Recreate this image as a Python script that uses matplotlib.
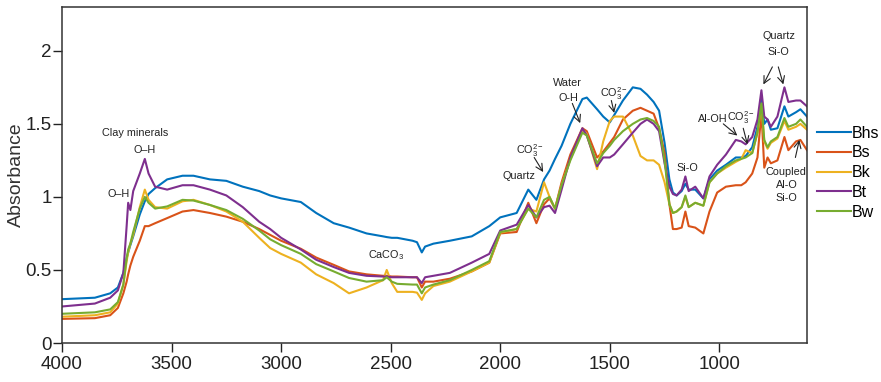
import matplotlib
matplotlib.use("Agg")
import matplotlib.pyplot as plt

plt.rcParams['font.family'] = ['Liberation Sans', 'DejaVu Sans']
plt.rcParams['mathtext.fontset'] = 'custom'
plt.rcParams['mathtext.rm'] = 'Liberation Sans'
plt.rcParams['mathtext.it'] = 'Liberation Sans:italic'
plt.rcParams['mathtext.bf'] = 'Liberation Sans:bold'

# Wavenumber (cm-1) sampling of the spectra
wavenumber = [4000, 3850, 3780, 3745, 3720, 3705, 3698, 3688, 3675, 3645, 3622, 3605,
              3575, 3520, 3450, 3400, 3325, 3250, 3175, 3100, 3050, 3000, 2910, 2840,
              2760, 2690, 2610, 2535, 2518, 2495, 2470, 2400, 2380, 2358, 2343, 2305,
              2230, 2130, 2050, 2000, 1925, 1872, 1835, 1800, 1775, 1750, 1720, 1680,
              1625, 1605, 1558, 1530, 1500, 1480, 1440, 1395, 1360, 1330, 1300, 1275,
              1250, 1228, 1212, 1195, 1172, 1155, 1140, 1110, 1073, 1045, 1010, 970,
              925, 900, 880, 850, 826, 808, 795, 780, 765, 735, 703, 685, 650, 630, 600]

horizons = ["Bhs", "Bs", "Bk", "Bt", "Bw"]
colors = ["#0072BD", "#D95319", "#EDB120", "#7E2F8E", "#77AC30"]

bhs = [0.30, 0.31, 0.34, 0.38, 0.48, 0.58, 0.62, 0.67, 0.73, 0.88, 0.97, 1.02,
       1.06, 1.12, 1.145, 1.145, 1.12, 1.11, 1.07, 1.04, 1.01, 0.99, 0.965, 0.89,
       0.82, 0.79, 0.75, 0.73, 0.725, 0.72, 0.72, 0.70, 0.69, 0.62, 0.66, 0.68,
       0.70, 0.73, 0.80, 0.86, 0.89, 1.05, 0.98, 1.12, 1.18, 1.26, 1.35, 1.50,
       1.67, 1.68, 1.60, 1.55, 1.51, 1.56, 1.66, 1.75, 1.74, 1.70, 1.65, 1.59,
       1.37, 1.12, 1.03, 1.01, 1.04, 1.09, 1.05, 1.05, 0.99, 1.12, 1.18, 1.22,
       1.27, 1.27, 1.28, 1.34, 1.48, 1.69, 1.50, 1.53, 1.46, 1.47, 1.62, 1.55, 1.58, 1.60, 1.55]

bs = [0.165, 0.17, 0.19, 0.24, 0.34, 0.42, 0.47, 0.53, 0.59, 0.70, 0.80, 0.80,
      0.82, 0.855, 0.90, 0.91, 0.89, 0.865, 0.83, 0.78, 0.74, 0.70, 0.645, 0.585,
      0.535, 0.49, 0.47, 0.46, 0.46, 0.455, 0.455, 0.45, 0.45, 0.38, 0.42, 0.42,
      0.44, 0.49, 0.55, 0.75, 0.76, 0.96, 0.82, 0.95, 0.99, 0.92, 1.10, 1.29,
      1.47, 1.45, 1.27, 1.31, 1.37, 1.41, 1.53, 1.59, 1.61, 1.59, 1.57, 1.47,
      1.30, 0.95, 0.78, 0.78, 0.79, 0.90, 0.80, 0.79, 0.75, 0.90, 1.03, 1.07,
      1.08, 1.08, 1.10, 1.16, 1.27, 1.58, 1.20, 1.27, 1.23, 1.25, 1.41, 1.32, 1.38, 1.39, 1.32]

bk = [0.18, 0.19, 0.21, 0.27, 0.40, 0.56, 0.62, 0.68, 0.74, 0.93, 1.05, 0.98,
      0.93, 0.92, 0.97, 0.98, 0.945, 0.90, 0.83, 0.72, 0.65, 0.61, 0.55, 0.47,
      0.41, 0.34, 0.38, 0.43, 0.50, 0.41, 0.35, 0.35, 0.345, 0.295, 0.34, 0.39,
      0.42, 0.49, 0.55, 0.755, 0.78, 0.92, 0.90, 1.10, 1.00, 0.92, 1.08, 1.26,
      1.46, 1.43, 1.19, 1.38, 1.52, 1.55, 1.55, 1.42, 1.28, 1.25, 1.25, 1.22,
      1.10, 0.95, 0.89, 0.90, 0.93, 1.00, 0.93, 0.96, 0.94, 1.10, 1.16, 1.20,
      1.24, 1.26, 1.32, 1.30, 1.44, 1.63, 1.38, 1.33, 1.37, 1.40, 1.52, 1.46, 1.48, 1.50, 1.46]

bt = [0.25, 0.27, 0.31, 0.36, 0.48, 0.80, 0.96, 0.91, 1.04, 1.16, 1.26, 1.16,
      1.07, 1.05, 1.08, 1.08, 1.05, 1.01, 0.93, 0.83, 0.78, 0.72, 0.64, 0.57,
      0.52, 0.48, 0.46, 0.455, 0.455, 0.45, 0.45, 0.45, 0.45, 0.41, 0.45, 0.46,
      0.48, 0.55, 0.61, 0.77, 0.81, 0.945, 0.86, 0.93, 0.94, 0.89, 1.05, 1.27,
      1.47, 1.42, 1.21, 1.27, 1.27, 1.29, 1.36, 1.44, 1.50, 1.53, 1.50, 1.45,
      1.23, 1.07, 1.02, 1.01, 1.05, 1.14, 1.04, 1.07, 0.99, 1.14, 1.22, 1.29,
      1.39, 1.38, 1.36, 1.41, 1.53, 1.73, 1.55, 1.53, 1.48, 1.55, 1.75, 1.65, 1.66, 1.66, 1.62]

bw = [0.20, 0.21, 0.23, 0.28, 0.40, 0.58, 0.64, 0.68, 0.76, 0.92, 1.00, 0.96,
      0.92, 0.935, 0.98, 0.975, 0.945, 0.91, 0.85, 0.77, 0.71, 0.67, 0.61, 0.54,
      0.49, 0.445, 0.42, 0.43, 0.45, 0.42, 0.405, 0.40, 0.40, 0.34, 0.38, 0.40,
      0.43, 0.50, 0.56, 0.76, 0.78, 0.92, 0.86, 0.98, 1.00, 0.92, 1.08, 1.25,
      1.44, 1.42, 1.23, 1.30, 1.35, 1.39, 1.45, 1.50, 1.53, 1.54, 1.52, 1.48,
      1.25, 0.95, 0.89, 0.90, 0.93, 1.01, 0.93, 0.96, 0.94, 1.10, 1.16, 1.21,
      1.25, 1.26, 1.27, 1.30, 1.44, 1.64, 1.39, 1.34, 1.38, 1.41, 1.54, 1.48, 1.50, 1.53, 1.48]

spectra = [bhs, bs, bk, bt, bw]

x_ticks = [4000, 3500, 3000, 2500, 2000, 1500, 1000]
y_ticks = [0, 0.5, 1, 1.5, 2]
y_tick_labels = ["0", "0.5", "1", "1.5", "2"]

co3 = r'CO$\mathregular{_3^{2-}}$'

# Band labels: (text, wavenumber, absorbance)
band_labels = [
    ("Clay minerals", 3667, 1.44),
    ("O\u2013H", 3621, 1.32),
    ("O\u2013H", 3740, 1.02),
    (r'CaCO$\mathregular{_3}$', 2521, 0.60),
    ("Quartz", 1913, 1.14),
    (co3, 1866, 1.32),
    ("Water", 1694, 1.78),
    ("O-H", 1690, 1.68),
    (co3, 1480, 1.71),
    ("Si-O", 1146, 1.20),
    ("Al-OH", 1030, 1.53),
    (co3, 900, 1.54),
    ("Quartz", 726, 2.10),
    ("Si-O", 731, 1.99),
    ("Coupled\nAl-O\nSi-O", 694, 1.08),
]

# Arrows: (start wavenumber, start absorbance, tip wavenumber, tip absorbance)
band_arrows = [
    (1845, 1.27, 1804, 1.17),
    (1671, 1.64, 1635, 1.505),
    (1493, 1.66, 1480, 1.575),
    (982, 1.50, 918, 1.42),
    (891, 1.47, 872, 1.36),
    (758, 1.89, 799, 1.77),
    (731, 1.89, 708, 1.77),
    (653, 1.27, 635, 1.39),
]

fig = plt.figure(figsize=(8.81, 3.82), dpi=100)
ax = fig.add_axes([62 / 881, 39 / 382, 745 / 881, 336 / 382])

for name, color, values in zip(horizons, colors, spectra):
    ax.plot(wavenumber, values, color=color, lw=1.5, label=name)

ax.set_xlim(4000, 600)
ax.set_ylim(0, 2.3)
ax.set_xticks(x_ticks)
ax.set_yticks(y_ticks)
ax.set_yticklabels(y_tick_labels)
ax.tick_params(direction='out', length=6.5, width=1, labelsize=13.5, colors='#222222')
ax.tick_params(axis='y', pad=1)
ax.tick_params(axis='x', pad=3)
ax.tick_params(top=False, right=False)
for s in ax.spines.values():
    s.set_linewidth(1.1)
    s.set_color('#333333')
ax.set_ylabel("Absorbance", fontsize=14, color='#333333', labelpad=0.5)

for text, xw, ya in band_labels:
    ax.text(xw, ya, text, fontsize=7.8, ha='center', va='center', color='#222222',
            linespacing=1.35)

for x0, y0, x1, y1 in band_arrows:
    ax.annotate('', xy=(x1, y1), xytext=(x0, y0),
                arrowprops=dict(arrowstyle='->,head_length=0.5,head_width=0.25',
                                color='#222222', lw=0.8, shrinkA=0, shrinkB=0))

fig.legend(loc='center left', bbox_to_anchor=(817 / 881, 0.548), frameon=False,
           fontsize=11.5, handlelength=2.1, handletextpad=0.05, labelspacing=0.3,
           borderpad=0, borderaxespad=0)

fig.savefig("out.png", dpi=100)
